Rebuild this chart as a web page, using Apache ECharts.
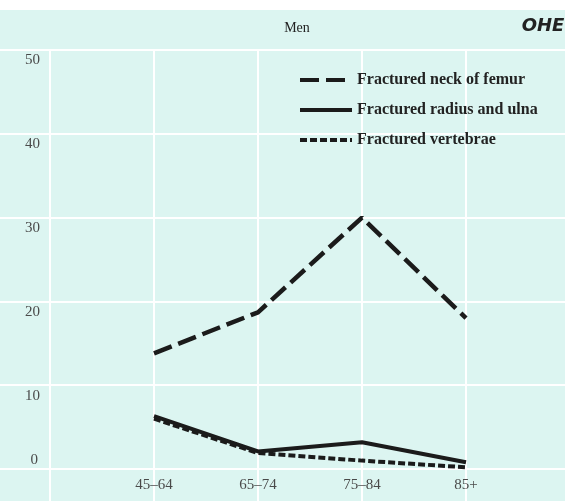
<!DOCTYPE html>
<html>
<head>
<meta charset="utf-8">
<script src="https://cdn.jsdelivr.net/npm/echarts@6/dist/echarts.min.js"></script>
<style>
html,body{margin:0;padding:0;background:#fff;}
#c{width:565px;height:501px;}
</style>
</head>
<body>
<div id="c"></div>
<script>
var categories = ['45–64', '65–74', '75–84', '85+'];
var femur = [13.8, 18.7, 30.0, 18.0];
var radius = [6.3, 2.1, 3.2, 0.8];
var vertebrae = [6.0, 1.9, 1.0, 0.2];
var seriesNames = ['Fractured neck of femur', 'Fractured radius and ulna', 'Fractured vertebrae'];
var yTicks = [0, 10, 20, 30, 40, 50];

function pad(arr) { return [null].concat(arr).concat([null]); }
var axisCats = [''].concat(categories).concat(['']);

var serif = '"Liberation Serif", "DejaVu Serif", serif';
var chart = echarts.init(document.getElementById('c'));
chart.setOption({
  backgroundColor: '#ffffff',
  animation: false,
  graphic: [
    { type: 'rect', z: -10, shape: { x: 0, y: 10, width: 565, height: 491 }, style: { fill: '#dcf5f1' } },
    { type: 'text', x: 297, y: 28, style: { text: 'Men', font: '14px ' + serif, fill: '#222', align: 'center', verticalAlign: 'middle' } },
    { type: 'text', x: 543, y: 26, style: { text: 'OHE', font: 'italic bold 18px "DejaVu Sans", sans-serif', fill: '#222', align: 'center', verticalAlign: 'middle' } }
  ],
  grid: { left: 50, top: 50, width: 520, bottom: 32, containLabel: false, outerBoundsMode: 'none' },
  legend: {
    orient: 'vertical', left: 298, top: 72, padding: 0,
    itemWidth: 52, itemHeight: 12, itemGap: 14,
    itemStyle: { opacity: 0 },
    lineStyle: { width: 4 },
    textStyle: { fontFamily: serif, fontSize: 16, fontWeight: 'bold', color: '#222' },
    data: seriesNames
  },
  xAxis: {
    type: 'category', data: axisCats, boundaryGap: false,
    axisLine: { show: false },
    axisTick: { show: true, length: 32, lineStyle: { color: '#ffffff', width: 2 } },
    splitLine: { show: true, lineStyle: { color: '#ffffff', width: 2 } },
    axisLabel: { interval: 0, margin: 9, fontFamily: serif, fontSize: 15, color: '#4a4a4a' }
  },
  yAxis: [{
    type: 'value', min: 0, max: 50, interval: 10,
    axisLine: { show: false },
    axisTick: { show: true, length: 50, lineStyle: { color: '#ffffff', width: 2 } },
    splitLine: { show: true, lineStyle: { color: '#ffffff', width: 2 } },
    axisLabel: {
      showMinLabel: true, showMaxLabel: true, margin: 10,
      verticalAlign: 'top', padding: [3, 0, 0, 0],
      fontFamily: serif, fontSize: 15, color: '#4a4a4a',
      formatter: function (v) { return v === yTicks[0] ? '' : String(v); }
    }
  }, {
    type: 'value', min: 0, max: 50, interval: 10, position: 'left',
    axisLine: { show: false }, axisTick: { show: false }, splitLine: { show: false },
    axisLabel: {
      showMinLabel: true, margin: 12, verticalAlign: 'bottom', padding: [0, 0, 1, 0],
      fontFamily: serif, fontSize: 15, color: '#4a4a4a',
      formatter: function (v) { return v === yTicks[0] ? String(v) : ''; }
    }
  }],
  series: [
    { name: seriesNames[0], type: 'line', data: pad(femur), symbol: 'none', z: 3,
      lineStyle: { color: '#1b1b1b', width: 4.5, type: [19, 7] }, itemStyle: { color: '#1b1b1b' } },
    { name: seriesNames[1], type: 'line', data: pad(radius), symbol: 'none', z: 4,
      lineStyle: { color: '#1b1b1b', width: 4 }, itemStyle: { color: '#1b1b1b' } },
    { name: seriesNames[2], type: 'line', data: pad(vertebrae), symbol: 'none', z: 3,
      lineStyle: { color: '#1b1b1b', width: 4, type: [7, 3] }, itemStyle: { color: '#1b1b1b' } }
  ]
});
</script>
</body>
</html>
